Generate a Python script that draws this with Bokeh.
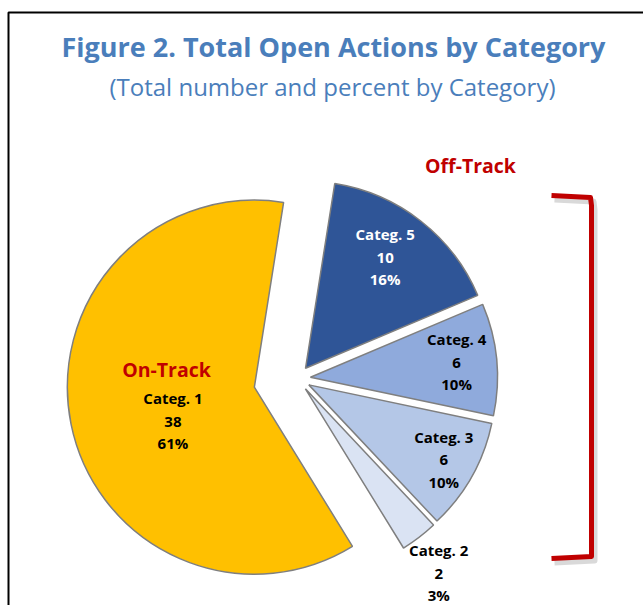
import numpy as np
from bokeh.plotting import figure
from bokeh.models import Range1d, ColumnDataSource
from bokeh.core.properties import value
from bokeh.embed import file_html
from bokeh.resources import INLINE

# ---- data ----
categories = ["Categ. 1", "Categ. 2", "Categ. 3", "Categ. 4", "Categ. 5"]
counts = [38, 2, 6, 6, 10]
on_track_label = "On-Track"
off_track_label = "Off-Track"
title_text = "Figure 2. Total Open Actions by Category"
subtitle_text = "(Total number and percent by Category)"

# ---- style ----
colors = ["#FFC000", "#DAE3F3", "#B4C7E7", "#8FAADC", "#2F5597"]
label_colors = ["black", "black", "black", "black", "white"]
explode = [44, 13, 13, 13, 13]
label_r = [88, 227, 154, 147, 137]
label_da = [11, -1.5, 0.5, 0.5, 2.5]
start_deg = 81.0
R = 187
FONT = value("Open Sans")

W, H = 643, 605
cx, cy = 297, 227

total = float(sum(counts))
fracs = np.array(counts) / total
ends = np.radians(start_deg) + 2 * np.pi * np.cumsum(fracs)
starts = ends - 2 * np.pi * fracs
mids = (starts + ends) / 2
xs = cx + np.array(explode) * np.cos(mids)
ys = cy + np.array(explode) * np.sin(mids)

pct = [f"{int(round(100 * c / total))}%" for c in counts]
texts = [f"{cat}\n{c}\n{pp}" for cat, c, pp in zip(categories, counts, pct)]
lab_ang = mids + np.radians(label_da)
lx = xs + np.array(label_r) * np.cos(lab_ang)
ly = ys + np.array(label_r) * np.sin(lab_ang)

p = figure(width=W, height=H, x_range=Range1d(0, W), y_range=Range1d(0, H),
           output_backend="svg", toolbar_location=None, min_border=0)
p.axis.visible = False
p.grid.visible = False
p.outline_line_color = None
p.background_fill_color = "white"

# frame (cropped at right/bottom)
p.line([8, 8, W + 10], [-10, 593, 593], line_color="black", line_width=2)

src = ColumnDataSource(dict(x=xs, y=ys, s=starts, e=ends, c=colors))
p.wedge(x="x", y="y", radius=R, start_angle="s", end_angle="e", fill_color="c",
        line_color="#7F7F7F", line_width=1.5, source=src)

lsrc = ColumnDataSource(dict(x=lx, y=ly, t=texts, c=label_colors))
p.text(x="x", y="y", text="t", text_color="c", source=lsrc, text_font=FONT,
       text_font_style="bold", text_font_size="15px", text_align="center",
       text_baseline="middle", text_line_height=1.12)

# On-Track label inside the yellow slice
p.text(x=[166], y=[236], text=[on_track_label], text_color="#C00000",
       text_font=FONT, text_font_style="bold", text_font_size="19.5px",
       text_align="center", text_baseline="middle")

# Off-Track label and bracket
p.text(x=[470], y=[440], text=[off_track_label], text_color="#C00000",
       text_font=FONT, text_font_style="bold", text_font_size="19.5px",
       text_align="center", text_baseline="middle")
bx = [551, 590, 591, 591, 551]
by = [410, 408, 400, 49, 47]
p.line([v + 3 for v in bx], [v - 4 for v in by], line_color="#000000", line_alpha=0.15,
       line_width=6, line_join="round")
p.line(bx, by, line_color="#C00000", line_width=5, line_join="round")

# titles
p.text(x=[333], y=[559], text=[title_text], text_color="#4A7EBB", text_font=FONT,
       text_font_style="bold", text_font_size="27px", text_align="center",
       text_baseline="middle")
p.text(x=[332], y=[519], text=[subtitle_text], text_color="#4A7EBB", text_font=FONT,
       text_font_size="24px", text_align="center", text_baseline="middle")

open("out.html", "w").write(file_html(p, INLINE))
